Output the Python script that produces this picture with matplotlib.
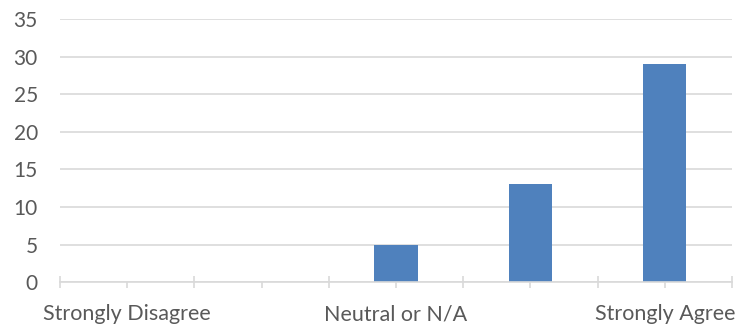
import numpy as np
import matplotlib.pyplot as plt

# survey response counts
categories = ['Strongly Disagree', 'Disagree', 'Neutral or N/A', 'Agree', 'Strongly Agree']
counts = [0, 0, 5, 13, 29]
y_ticks = [0, 5, 10, 15, 20, 25, 30, 35]

plt.rcParams['font.family'] = ['Lato', 'DejaVu Sans']

fig = plt.figure(figsize=(7.5, 3.28), dpi=100)
ax = fig.add_axes([0.08, 0.14, 0.896, 0.802])

x = np.arange(len(categories))
ax.bar(x, counts, width=0.32, color='#4f81bd', zorder=3)

ax.set_xlim(-0.5, len(categories) - 0.5)
ax.set_ylim(0, 35)
ax.set_yticks(y_ticks)
ax.grid(axis='y', color='#d9d9d9', linewidth=1.2, zorder=0)

# labels on every other category, boundary ticks crossing the axis
ax.set_xticks(np.arange(-0.5, len(categories)), minor=False)
ax.set_xticklabels([])
ax.set_xticks(x, minor=True)
ax.set_xticklabels([c if i % 2 == 0 else '' for i, c in enumerate(categories)], minor=True)
ax.tick_params(axis='x', which='major', direction='inout', length=8, color='#d9d9d9', width=1.2)
ax.tick_params(axis='x', which='minor', direction='out', length=4, color='#d9d9d9', width=1.2,
               labelsize=15.5, labelcolor='#595959', pad=12)
ax.tick_params(axis='y', length=0, labelsize=15, labelcolor='#595959', pad=16)

for side in ['top', 'right', 'left']:
    ax.spines[side].set_visible(False)
ax.spines['bottom'].set_color('#d9d9d9')
ax.spines['bottom'].set_linewidth(1.2)
ax.spines['bottom'].set_zorder(4)

fig.savefig('out.png', dpi=100)
